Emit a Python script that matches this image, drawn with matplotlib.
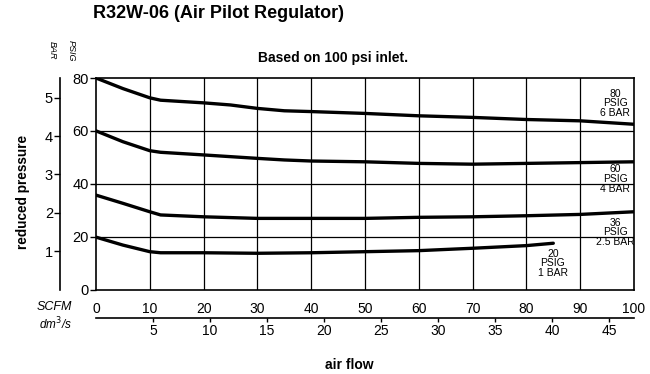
import matplotlib
matplotlib.use('Agg')
import matplotlib.pyplot as plt

plt.rcParams['font.family'] = ['Liberation Sans', 'DejaVu Sans']

# flow in SCFM, reduced pressure in PSIG
flow_80 = [0, 5, 10, 12, 20, 25, 30, 35, 40, 50, 60, 70, 80, 90, 100]
psig_80 = [80, 76.0, 72.5, 71.6, 70.6, 69.8, 68.5, 67.6, 67.3, 66.6, 65.7, 65.1, 64.3, 63.8, 62.5]

flow_60 = [0, 5, 10, 12, 20, 30, 35, 40, 50, 60, 70, 80, 90, 100]
psig_60 = [60, 55.9, 52.5, 51.9, 50.9, 49.6, 49.0, 48.6, 48.3, 47.7, 47.4, 47.7, 48.0, 48.3]

flow_36 = [0, 5, 10, 12, 20, 30, 40, 50, 60, 70, 80, 90, 100]
psig_36 = [35.7, 32.6, 29.4, 28.2, 27.5, 26.9, 26.9, 26.9, 27.3, 27.5, 27.9, 28.4, 29.4]

flow_20 = [0, 5, 10, 12, 20, 30, 40, 50, 60, 70, 80, 85]
psig_20 = [19.8, 16.8, 14.3, 13.9, 13.9, 13.7, 13.9, 14.3, 14.7, 15.6, 16.6, 17.5]

curve_labels = ['80\nPSIG\n6 BAR', '60\nPSIG\n4 BAR', '36\nPSIG\n2.5 BAR', '20\nPSIG\n1 BAR']
label_pos = [(96.5, 70.4), (96.5, 41.8), (96.5, 21.6), (84.9, 9.9)]

scfm_ticks = list(range(0, 101, 10))
psig_ticks = [0, 20, 40, 60, 80]
bar_ticks = [1, 2, 3, 4, 5]
dm3s_ticks = [5, 10, 15, 20, 25, 30, 35, 40, 45]

PSI_PER_BAR = 14.5
SCFM_PER_DM3S = 2.119

W, H = 650, 374
fig = plt.figure(figsize=(W / 100, H / 100), dpi=100)
ax = fig.add_axes([96 / W, 1 - 289.5 / H, 538 / W, 211.5 / H])

ax.set_xlim(0, 100)
ax.set_ylim(0, 80)

for x in scfm_ticks[1:-1]:
    ax.axvline(x, color='black', lw=0.9, zorder=1)
for y in psig_ticks[1:-1]:
    ax.axhline(y, color='black', lw=0.9, zorder=1)

for xs, ys in [(flow_80, psig_80), (flow_60, psig_60), (flow_36, psig_36), (flow_20, psig_20)]:
    ax.plot(xs, ys, color='black', lw=2.4, solid_capstyle='round', zorder=3)

for text, (x, y) in zip(curve_labels, label_pos):
    ax.text(x, y, text, ha='center', va='center', fontsize=7.5, linespacing=0.95, zorder=4)

for side in ['top', 'right', 'left', 'bottom']:
    ax.spines[side].set_linewidth(1.2)

ax.set_xticks(scfm_ticks)
ax.set_xticklabels([str(t) for t in scfm_ticks], fontsize=10)
ax.tick_params(axis='x', length=0, pad=9)
ax.set_yticks(psig_ticks)
ax.set_yticklabels([str(t) for t in psig_ticks], fontsize=10.5)
ax.tick_params(axis='y', length=4, width=1, pad=1)

# bar scale on a second left axis
bar_ax = ax.secondary_yaxis(-36 / 538, functions=(lambda p: p / PSI_PER_BAR, lambda b: b * PSI_PER_BAR))
bar_ax.set_yticks(bar_ticks)
bar_ax.set_yticklabels([str(t) for t in bar_ticks], fontsize=10.5)
bar_ax.tick_params(axis='y', length=4, width=1, pad=1)
bar_ax.spines['left'].set_linewidth(1.2)

# dm3/s scale below the SCFM labels
dm_ax = ax.secondary_xaxis(-28.5 / 211.5, functions=(lambda s: s / SCFM_PER_DM3S, lambda d: d * SCFM_PER_DM3S))
dm_ax.set_xticks(dm3s_ticks)
dm_ax.set_xticklabels([str(t) for t in dm3s_ticks], fontsize=10)
dm_ax.tick_params(axis='x', length=3, width=1, pad=1)
dm_ax.spines['bottom'].set_linewidth(1.2)

fig.text(93 / W, 1 - 13 / H, 'R32W-06 (Air Pilot Regulator)', fontsize=13, fontweight='bold',
         ha='left', va='center')
fig.text(333 / W, 1 - 58 / H, 'Based on 100 psi inlet.', fontsize=10, fontweight='bold',
         ha='center', va='center')
fig.text(349 / W, 1 - 365 / H, 'air flow', fontsize=10, fontweight='bold', ha='center', va='center')
fig.text(23 / W, 1 - 192 / H, 'reduced pressure', fontsize=9.8, fontweight='bold', rotation=90,
         ha='center', va='center')
fig.text(52 / W, 1 - 50 / H, 'BAR', fontsize=6.5, style='italic', rotation=-90, ha='center', va='center')
fig.text(71 / W, 1 - 51 / H, 'PSIG', fontsize=6.5, style='italic', rotation=-90, ha='center', va='center')
fig.text(54 / W, 1 - 307 / H, 'SCFM', fontsize=9, style='italic', ha='center', va='center')
fig.text(55 / W, 1 - 324 / H, 'dm$^3$/s', fontsize=8.5, style='italic', ha='center', va='center')

fig.savefig('out.png', dpi=100)
